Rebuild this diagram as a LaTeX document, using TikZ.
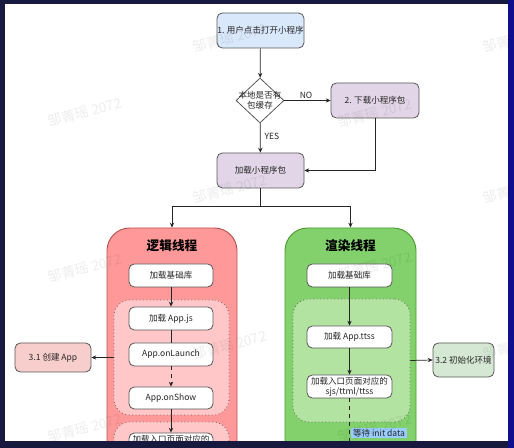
\documentclass[tikz,border=0pt]{standalone}
\usepackage{fontspec}
\setmainfont{Noto Sans CJK SC}
\usetikzlibrary{arrows.meta,shapes.geometric}
\definecolor{frame}{HTML}{17193F}
\definecolor{cblue}{HTML}{DAE8FC}
\definecolor{cpurple}{HTML}{E1D5E7}
\definecolor{cred}{HTML}{FF9999}
\definecolor{credline}{HTML}{B85450}
\definecolor{cpink}{HTML}{FFC7C7}
\definecolor{cpinkbox}{HTML}{F8CECC}
\definecolor{cgreen}{HTML}{82D16C}
\definecolor{cgreenline}{HTML}{4E9A32}
\definecolor{cgreenin}{HTML}{B2E3A0}
\definecolor{cgreenbox}{HTML}{D5E8D4}
\definecolor{cwait}{HTML}{99CCFF}
\tikzset{
  sz/.style 2 args={minimum width=#1*0.75pt, minimum height=#2*0.75pt},
  txt/.style={font=\fontsize{6.4}{7.6}\selectfont, align=center, text=black!85},
  box/.style={draw=black!65, line width=0.6pt, rounded corners=4pt, inner sep=0pt, txt},
  wbox/.style={box, fill=white},
  cont/.style={line width=0.7pt, rounded corners=17pt, inner sep=0pt},
  inner/.style={draw=black!60, dotted, line width=0.6pt, rounded corners=12pt, inner sep=0pt},
  arr/.style={draw=black!85, line width=0.55pt, -{Stealth[length=3.6pt,width=3.2pt]}},
  ln/.style={draw=black!85, line width=0.55pt},
  ttl/.style={font=\fontsize{9.5}{11}\selectfont\bfseries, text=black},
  wm/.style={font=\fontsize{10.4}{12}\selectfont, text=black, opacity=0.07, rotate=15},
}
\begin{document}
\begin{tikzpicture}[x=0.75pt,y=-0.75pt]
\useasboundingbox (0,0) rectangle (514,448);
\fill[frame] (0,0) rectangle (514,448);
\fill[frame!60!blue] (508,0) rectangle (514,448);
\fill[white] (5,4) rectangle (508,441);
\begin{scope}
\clip (5,4) rectangle (508,441);
% top flow
\node[box, fill=cblue, sz={87}{35}] (n1) at (260.5,30.5) {1. 用户点击打开小程序};
\node[draw=black!65, line width=0.6pt, diamond, fill=white, sz={48}{45}, inner sep=0pt] (d) at (260,100.5) {};
\node[txt] (dt) at (260,100.5) {本地是否有\\包缓存};
\node[box, fill=cpurple, sz={88}{35}] (n2) at (375,100.5) {2. 下载小程序包};
\node[box, fill=cpurple, sz={87}{35}] (n3) at (260.5,170.5) {加载小程序包};
\node[txt] (no) at (306,95) {NO};
\node[txt] (yes) at (272,136) {YES};
\draw[arr] (n1) -- (d);
\draw[arr] (d) -- (n2);
\draw[arr] (d) -- (n3);
\draw[arr] (n2.south) |- (n3.east);
\coordinate (sp) at (260.5,206);
% containers
\node[cont, draw=credline, fill=cred, sz={130}{280}] (L) at (172,368) {};
\node[cont, draw=cgreenline, fill=cgreen, sz={131}{280}] (R) at (350.5,368) {};
\draw[ln] (n3.south) -- (sp);
\draw[arr] (sp) -| (L.north);
\draw[arr] (sp) -| (R.north);
\node[ttl] (lt) at (172,246) {逻辑线程};
\node[ttl] (rt) at (350.5,246) {渲染线程};
% left thread
\node[inner, fill=cpink, sz={115}{115}] (lin1) at (171.5,357.5) {};
\node[inner, fill=cpink, sz={115}{100}] (lin2) at (171.5,472) {};
\node[wbox, sz={84}{23}] (lb1) at (171,275.5) {加载基础库};
\node[wbox, sz={84}{23}] (lb2) at (171,318.5) {加载 App.js};
\node[wbox, sz={84}{23}] (lb3) at (171,354.5) {App.onLaunch};
\node[wbox, sz={84}{22}] (lb4) at (171,398) {App.onShow};
\node[wbox, sz={84}{23}] (lb5) at (171,444.5) {加载入口页面对应的\\sjs/ttml/ttss};
\draw[arr] (lb1) -- (lb2);
\draw[ln] (lb2) -- (lb3);
\draw[arr, dashed] (lb3) -- (lb4);
\draw[arr] (lb4) -- (lb5);
\node[box, fill=cpinkbox, sz={76}{29}] (c31) at (53,357.5) {3.1 创建 App};
\draw[arr] (lin1.west) -- (c31.east);
% right thread
\node[inner, fill=cgreenin, sz={117}{123}] (rin) at (351.5,360.5) {};
\node[wbox, sz={85}{23}] (rb1) at (349.5,275.5) {加载基础库};
\node[wbox, sz={85}{22}] (rb2) at (349.5,337) {加载 App.ttss};
\node[wbox, sz={85}{23}] (rb3) at (349.5,386.5) {加载入口页面对应的\\sjs/ttml/ttss};
\draw[arr] (rb1) -- (rb2);
\draw[arr] (rb2) -- (rb3);
\coordinate (rend) at (349.5,470);
\draw[ln, dashed] (rb3) -- (rend);
\node[txt, fill=cwait, inner xsep=1.8pt, inner ysep=0.6pt, anchor=west] (wait) at (350.5,433) {等待 init data};
\node[box, fill=cgreenbox, sz={61}{34}] (c32) at (463.5,360) {3.2 初始化环境};
\draw[arr] (rin.east) -- (c32.west);
% watermarks
\foreach \x/\y [count=\i] in {85/112, 85/268, 85/428, 230/38, 230/189, 230/345, 375/113, 375/266, 375/428, 520/38, 520/189, 520/345}{
  \node[wm] (wm\i) at (\x,\y) {邹菁瑶 2072};
}
\end{scope}
\end{tikzpicture}
\end{document}
